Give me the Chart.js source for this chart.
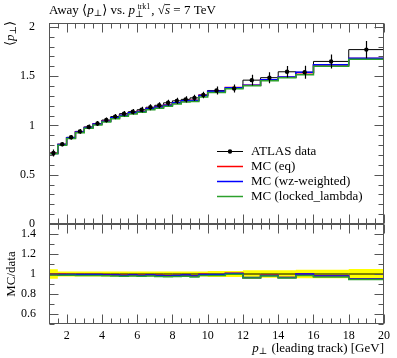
<!DOCTYPE html>
<html><head><meta charset="utf-8">
<script src="https://cdn.jsdelivr.net/npm/chart.js@4/dist/chart.umd.min.js"></script>
<style>
html,body{margin:0;padding:0;background:#fff;}
#wrap{position:relative;width:397px;height:358px;}
canvas{position:absolute;left:0;top:0;}
</style></head><body>
<div id="wrap"><canvas id="main" width="397" height="358"></canvas><canvas id="ratio" width="397" height="358"></canvas></div>
<script>
// ---- data ----
const binEdges = [1,1.5,2,2.5,3,3.5,4,4.5,5,5.5,6,6.5,7,7.5,8,8.5,9,9.5,10,11,12,13,14,15,16,18,20];
const dataValues = [0.72,0.81,0.88,0.94,0.985,1.02,1.055,1.09,1.12,1.14,1.16,1.185,1.205,1.23,1.25,1.265,1.28,1.31,1.355,1.375,1.46,1.485,1.545,1.54,1.65,1.77];
const dataErrors = [0.035,0.02,0.022,0.023,0.024,0.025,0.026,0.027,0.028,0.028,0.029,0.03,0.03,0.031,0.031,0.032,0.032,0.033,0.04,0.041,0.055,0.056,0.058,0.066,0.071,0.087];
const mcEq = [0.717,0.807,0.875,0.936,0.979,1.016,1.046,1.078,1.105,1.128,1.145,1.172,1.189,1.207,1.230,1.250,1.256,1.306,1.346,1.386,1.407,1.465,1.489,1.536,1.615,1.680];
const mcWz = [0.716,0.806,0.876,0.935,0.980,1.015,1.044,1.079,1.103,1.129,1.143,1.173,1.187,1.205,1.231,1.252,1.254,1.303,1.348,1.382,1.409,1.463,1.491,1.540,1.617,1.682];
const mcLocked = [0.712,0.800,0.868,0.927,0.971,1.005,1.036,1.068,1.094,1.117,1.133,1.160,1.176,1.195,1.218,1.238,1.243,1.290,1.335,1.372,1.403,1.455,1.485,1.515,1.600,1.672];
const xTicks = [2,4,6,8,10,12,14,16,18,20];
const yMainTicks = [0,0.5,1,1.5,2];
const yRatioTicks = [0.6,0.8,1,1.2,1.4];
const legendLabels = ['ATLAS data','MC (eq)','MC (wz-weighted)','MC (locked_lambda)'];

// ---- styling ----
const FONT = "'Liberation Serif', 'DejaVu Serif', serif";
const C_DATA = '#000000', C_EQ = '#ff0000', C_WZ = '#0000ff', C_LL = '#2ca02c', C_BAND = '#ffff00';
const FRAME = '#555555';

const stepPts = vals => binEdges.map((e,i)=>({x:e, y: vals[Math.min(i, vals.length-1)]}));
const centers = dataValues.map((v,i)=>(binEdges[i]+binEdges[i+1])/2);
const ratioOf = arr => arr.map((v,i)=>v/dataValues[i]);
const fmt = v => String(Math.round(v*100)/100);

function stepDs(vals, color, width, order){
  return {data: stepPts(vals), borderColor: color, borderWidth: width, stepped: true,
          pointRadius: 0, fill: false, order: order};
}

function frameTicks(yMinorStep, yLo, yHi, yMajors){
  return {id:'frameTicks', afterDatasetsDraw(chart){
    const ctx = chart.ctx, a = chart.chartArea, xs = chart.scales.x, ys = chart.scales.y;
    ctx.save();
    ctx.strokeStyle = FRAME; ctx.lineWidth = 1;
    const L = Math.round(a.left)+0.5, R = Math.round(a.right)-0.5, T = Math.round(a.top)+0.5, B = Math.round(a.bottom)-0.5;
    ctx.strokeRect(L, T, R-L, B-T);
    ctx.beginPath();
    for (let i=0;i<=38;i++){
      const v = 1 + i*0.5;
      const major = xTicks.some(t=>Math.abs(t-v)<1e-9);
      const len = major ? 9 : 5;
      const px = Math.round(xs.getPixelForValue(v))+0.5;
      ctx.moveTo(px,B); ctx.lineTo(px,B-len);
      ctx.moveTo(px,T); ctx.lineTo(px,T+len);
    }
    const n = Math.round((yHi-yLo)/yMinorStep);
    for (let i=0;i<=n;i++){
      const v = yLo + i*yMinorStep;
      const major = yMajors.some(t=>Math.abs(t-v)<1e-9);
      const len = major ? 9 : 5;
      const py = Math.round(ys.getPixelForValue(v))+0.5;
      ctx.moveTo(L,py); ctx.lineTo(L+len,py);
      ctx.moveTo(R,py); ctx.lineTo(R-len,py);
    }
    ctx.stroke();
    ctx.restore();
  }};
}

function drawRich(ctx, x, y, parts){
  for (const p of parts){
    const size = p.size || 13;
    ctx.font = (p.italic?'italic ':'') + size + 'px ' + FONT;
    ctx.fillText(p.t, x, y + (p.dy||0));
    const w = ctx.measureText(p.t).width;
    if (p.over){ ctx.fillRect(x, y + (p.dy||0) - size*0.75, w, 0.8); }
    x += w + (p.after||0);
  }
  return x;
}

const errorBars = {id:'errorBars', afterDatasetsDraw(chart){
  const ctx = chart.ctx, xs = chart.scales.x, ys = chart.scales.y;
  ctx.save(); ctx.strokeStyle = C_DATA; ctx.lineWidth = 1.2; ctx.beginPath();
  dataValues.forEach((v,i)=>{
    const px = Math.round(xs.getPixelForValue(centers[i]))+0.5;
    ctx.moveTo(px, ys.getPixelForValue(v-dataErrors[i]));
    ctx.lineTo(px, ys.getPixelForValue(v+dataErrors[i]));
  });
  ctx.stroke(); ctx.restore();
}};

const mainText = {id:'mainText', afterDraw(chart){
  const ctx = chart.ctx;
  ctx.save(); ctx.fillStyle = '#000'; ctx.textBaseline = 'alphabetic'; ctx.textAlign = 'left';
  drawRich(ctx, 49, 14, [
    {t:'Away \u27E8'}, {t:'p', italic:true}, {t:'\u22A5', size:9, dy:2}, {t:'\u27E9 vs. '},
    {t:'p', italic:true}, {t:'\u22A5', size:9, dy:3, after:-6}, {t:'trk1', size:8, dy:-5, after:1},
    {t:', \u221A'}, {t:'s', italic:true, over:true}, {t:' = 7 TeV'}
  ]);
  ctx.save(); ctx.translate(14, 46); ctx.rotate(-Math.PI/2);
  drawRich(ctx, 0, 0, [{t:'\u27E8'}, {t:'p', italic:true}, {t:'\u22A5', size:9, dy:2}, {t:'\u27E9'}]);
  ctx.restore();
  const colors = [C_DATA, C_EQ, C_WZ, C_LL];
  ctx.font = '13px ' + FONT; ctx.textBaseline = 'middle';
  legendLabels.forEach((lab,i)=>{
    const y = 151 + i*15;
    ctx.strokeStyle = colors[i]; ctx.lineWidth = i===0?1:1.5;
    ctx.beginPath(); ctx.moveTo(217, y+0.5); ctx.lineTo(243, y+0.5); ctx.stroke();
    if (i===0){ ctx.beginPath(); ctx.arc(230, y+0.5, 2.2, 0, Math.PI*2); ctx.fill(); }
    ctx.fillText(lab, 251, y+1);
  });
  ctx.restore();
}};

const ratioText = {id:'ratioText', afterDraw(chart){
  const ctx = chart.ctx;
  ctx.save(); ctx.fillStyle = '#000'; ctx.textBaseline = 'alphabetic';
  ctx.save(); ctx.translate(15, 274); ctx.rotate(-Math.PI/2);
  ctx.font = '13px ' + FONT; ctx.textAlign = 'center'; ctx.fillText('MC/data', 0, 0);
  ctx.restore();
  ctx.textAlign = 'left';
  const parts = [{t:'p', italic:true}, {t:'\u22A5', size:9, dy:2, after:1}, {t:' (leading track) [GeV]'}];
  let w = 0;
  parts.forEach(p=>{ ctx.font=(p.italic?'italic ':'')+(p.size||13)+'px '+FONT; w += ctx.measureText(p.t).width + (p.after||0); });
  drawRich(ctx, 384 - w, 352, parts);
  ctx.restore();
}};

const tickFont = {family: FONT, size: 12};
const commonX = {type:'linear', min:1, max:20};

new Chart(document.getElementById('main'), {
  type:'line',
  data:{datasets:[
    {data: centers.map((c,i)=>({x:c, y:dataValues[i]})), showLine:false,
      pointRadius:2.2, pointBorderWidth:0, pointBackgroundColor:C_DATA, pointBorderColor:C_DATA, borderColor:C_DATA, order:0},
    stepDs(mcLocked, C_LL, 1.5, 1),
    stepDs(mcWz, C_WZ, 1.5, 2),
    stepDs(mcEq, C_EQ, 1.5, 3),
    stepDs(dataValues, C_DATA, 1, 4)
  ]},
  options:{
    responsive:false, animation:false, devicePixelRatio:1,
    layout:{padding:{top:23, right:13, bottom:134, left:0}},
    plugins:{legend:{display:false}, tooltip:{enabled:false}},
    scales:{
      x: Object.assign({display:false}, commonX),
      y: {min:0, max:2.04,
          afterBuildTicks: s=>{ s.ticks = yMainTicks.map(v=>({value:v})); },
          afterFit: s=>{ s.width = 49; },
          grid:{display:false}, border:{display:false},
          ticks:{font:tickFont, color:'#000', padding:6, callback: v=>fmt(v)}}
    }
  },
  plugins:[frameTicks(0.1, 0, 2.0, yMainTicks), errorBars, mainText]
});

const bandLo = dataValues.map((v,i)=>1 - dataErrors[i]/v);
const bandHi = dataValues.map((v,i)=>1 + dataErrors[i]/v);
const ones = dataValues.map(()=>1);

new Chart(document.getElementById('ratio'), {
  type:'line',
  data:{datasets:[
    {data: stepPts(bandLo), borderWidth:0, borderColor:'rgba(0,0,0,0)', stepped:true, pointRadius:0, fill:false, order:10},
    {data: stepPts(bandHi), borderWidth:0, borderColor:'rgba(0,0,0,0)', stepped:true, pointRadius:0, fill:'-1', backgroundColor:C_BAND, order:9},
    stepDs(ones, C_DATA, 1, 4),
    stepDs(ratioOf(mcEq), C_EQ, 1.5, 3),
    stepDs(ratioOf(mcWz), C_WZ, 1.5, 2),
    stepDs(ratioOf(mcLocked), C_LL, 1.5, 1)
  ]},
  options:{
    responsive:false, animation:false, devicePixelRatio:1,
    layout:{padding:{top:224, right:13, bottom:0, left:0}},
    plugins:{legend:{display:false}, tooltip:{enabled:false}, filler:{propagate:false}},
    scales:{
      x: Object.assign({
          afterBuildTicks: s=>{ s.ticks = xTicks.map(v=>({value:v})); },
          afterFit: s=>{ s.height = 34; },
          grid:{display:false}, border:{display:false},
          ticks:{font:tickFont, color:'#000', padding:-3, maxRotation:0, autoSkip:false}}, commonX),
      y: {min:0.5, max:1.5,
          afterBuildTicks: s=>{ s.ticks = yRatioTicks.map(v=>({value:v})); },
          afterFit: s=>{ s.width = 49; },
          grid:{display:false}, border:{display:false},
          ticks:{font:tickFont, color:'#000', padding:5, callback: v=>fmt(v)}}
    }
  },
  plugins:[frameTicks(0.1, 0.5, 1.5, yRatioTicks), ratioText]
});
</script>
</body></html>
